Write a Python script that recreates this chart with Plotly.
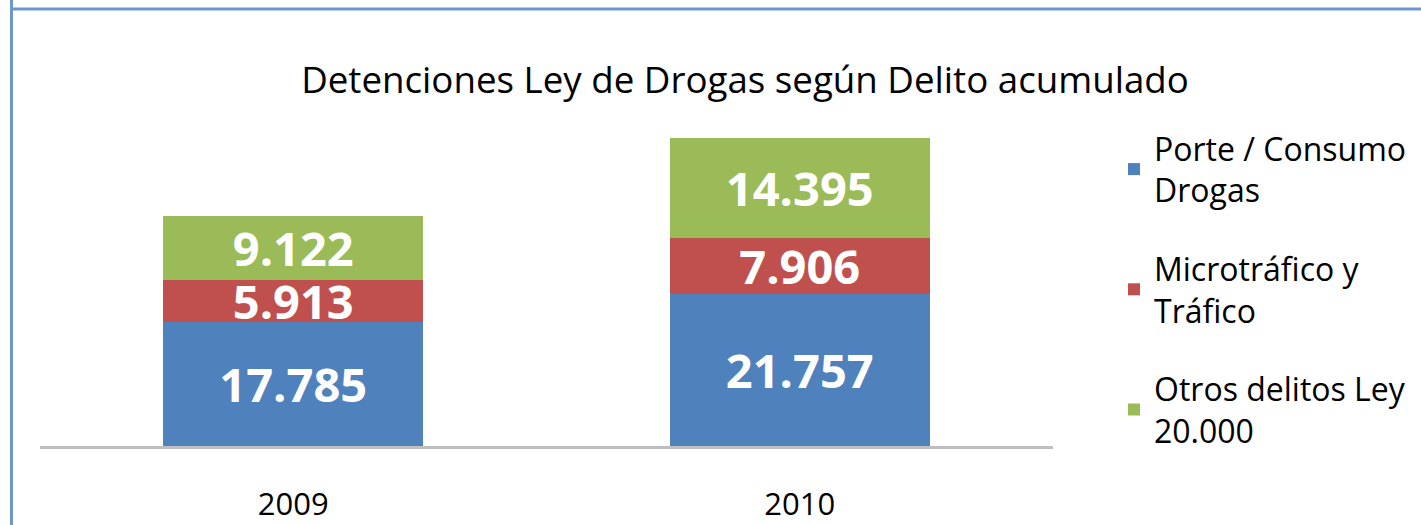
import plotly.graph_objects as go

years = ["2009", "2010"]
series_names = ["Porte / Consumo<br>Drogas", "Microtráfico y<br>Tráfico", "Otros delitos Ley<br>20.000"]
porte = [17785, 21757]
micro = [5913, 7906]
otros = [9122, 14395]
colors = ["#4F81BD", "#C0504D", "#9BBB59"]

W, H = 1421, 525
ML, MR, MT, MB = 40, 368, 96, 79
PW = W - ML - MR
PH = H - MT - MB

fig = go.Figure()
for i, (name, vals) in enumerate(zip(series_names, [porte, micro, otros])):
    fig.add_trace(go.Bar(
        x=years, y=vals, name=name,
        marker=dict(color=colors[i], line=dict(width=0)),
        texttemplate="%{y:,}", textposition="inside", insidetextanchor="middle",
        textangle=0, constraintext="none",
        textfont=dict(family="Open Sans", size=47, color="white", weight="bold"),
        legendgroup=f"g{i}",
    ))

def px_x(p):
    return (p - ML) / PW

def px_y(p):
    return (H - MB - p) / PH

shapes = [
    dict(type="line", xref="paper", yref="paper",
         x0=px_x(11.5), x1=px_x(11.5), y0=px_y(0), y1=px_y(H),
         line=dict(color="#6C97CD", width=3)),
    dict(type="line", xref="paper", yref="paper",
         x0=px_x(10), x1=px_x(W), y0=px_y(9), y1=px_y(9),
         line=dict(color="#6C97CD", width=3)),
]

fig.update_layout(
    width=W, height=H,
    margin=dict(l=ML, r=MR, t=MT, b=MB, autoexpand=False),
    barmode="stack", bargap=0.487,
    separators=",.",
    paper_bgcolor="white", plot_bgcolor="white",
    font=dict(family="Open Sans", color="#000000"),
    title=dict(text="Detenciones Ley de Drogas según Delito acumulado",
               x=745 / W, xanchor="center", y=1 - 80 / H, yanchor="middle",
               font=dict(size=36.7, color="#000000")),
    xaxis=dict(showline=True, linecolor="#BFBFBF", linewidth=3,
               ticks="", showgrid=False, ticklabelstandoff=29,
               tickfont=dict(size=31, color="#000000"),
               range=[-0.5, 1.5]),
    yaxis=dict(visible=False, range=[0, 50000], showgrid=False),
    legend=dict(x=px_x(1114), xanchor="left", y=px_y(121), yanchor="top",
                traceorder="grouped", tracegroupgap=34,
                font=dict(size=32, color="#000000"),
                bgcolor="rgba(0,0,0,0)"),
    shapes=shapes,
)

fig.write_html(
    "out.html",
    config={"displayModeBar": False},
    post_script="document.body.style.margin='0';document.body.style.overflow='hidden';",
)
